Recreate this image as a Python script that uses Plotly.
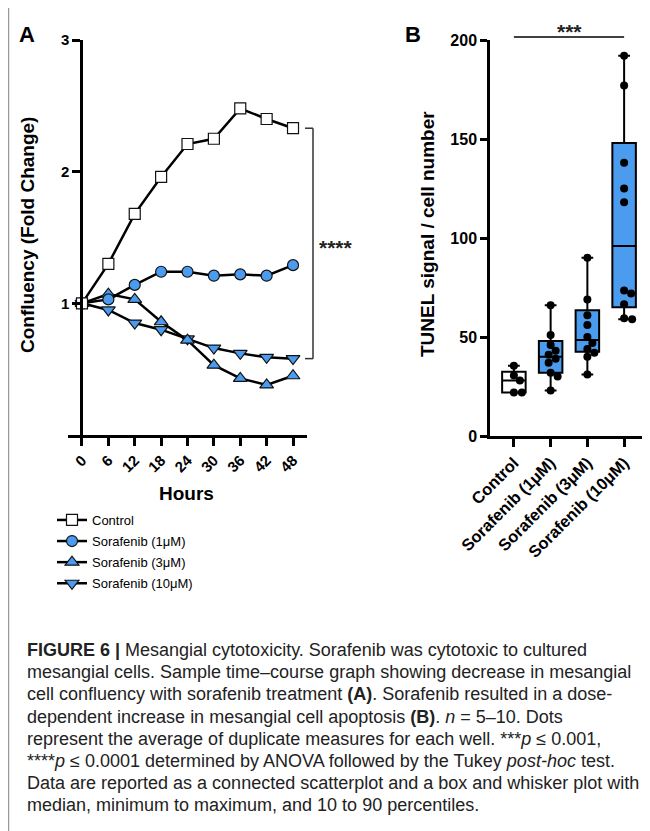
import plotly.graph_objects as go

# ---------------- data ----------------
hours = [0, 6, 12, 18, 24, 30, 36, 42, 48]
control = [1.00, 1.30, 1.68, 1.96, 2.21, 2.25, 2.48, 2.40, 2.33]
sora_1 = [1.00, 1.03, 1.14, 1.24, 1.24, 1.21, 1.22, 1.21, 1.29]
sora_3 = [1.00, 1.07, 1.03, 0.86, 0.72, 0.53, 0.43, 0.38, 0.45]
sora_10 = [1.00, 0.95, 0.85, 0.80, 0.73, 0.66, 0.62, 0.59, 0.58]
series_names = ["Control", "Sorafenib (1μM)", "Sorafenib (3μM)", "Sorafenib (10μM)"]

groups = ["Control", "Sorafenib (1μM)", "Sorafenib (3μM)", "Sorafenib (10μM)"]
tunel_control = [35.5, 30.5, 28, 22, 22]
tunel_1 = [66, 51, 46, 43, 41, 39, 37, 32, 30, 23]
tunel_3 = [90, 69, 61, 56, 50, 47, 44, 42, 40, 31]
tunel_10 = [192, 177, 138, 125, 118, 73.5, 72, 66.5, 59.5, 59]
box_q1 = [22, 32, 42.5, 65]
box_median = [28, 40, 48.5, 96]
box_q3 = [32.5, 48, 63.5, 148]
box_min = [22, 23, 31, 59]
box_max = [35.5, 66, 90, 192]

caption_lines = [
    "<b>FIGURE 6 |</b> Mesangial cytotoxicity. Sorafenib was cytotoxic to cultured",
    "mesangial cells. Sample time–course graph showing decrease in mesangial",
    "cell confluency with sorafenib treatment <b>(A)</b>. Sorafenib resulted in a dose-",
    "dependent increase in mesangial cell apoptosis <b>(B)</b>. <i>n</i> = 5–10. Dots",
    "represent the average of duplicate measures for each well. ***<i>p</i> ≤ 0.001,",
    "****<i>p</i> ≤ 0.0001 determined by ANOVA followed by the Tukey <i>post-hoc</i> test.",
    "Data are reported as a connected scatterplot and a box and whisker plot with",
    "median, minimum to maximum, and 10 to 90 percentiles.",
]

# ---------------- helpers ----------------
# the page body has an 8px margin, so the figure is placed at (8, 8) in the window
OFF = 8
W, H = 650 - OFF, 831 - OFF
def fx(p):
    return (p - OFF) / W
def fy(p):
    return 1 - (p - OFF) / H

FONT = "Liberation Sans, Arial, sans-serif"
BLUE = "#4B9CEF"

fig = go.Figure()

# ---------------- panel A ----------------
styles = [
    (sora_10, "triangle-down", BLUE, 12, 4),
    (sora_3, "triangle-up", BLUE, 12, 3),
    (sora_1, "circle", BLUE, 11, 2),
    (control, "square", "white", 11, 1),
]
for vals, sym, col, sz, rank in styles:
    fig.add_trace(go.Scatter(
        x=hours, y=vals, mode="lines+markers", name=series_names[rank - 1],
        legendrank=rank, legendgroup="g%d" % rank,
        line=dict(color="black", width=2.5),
        marker=dict(symbol=sym, size=sz, color=col, line=dict(color="#111", width=1.2)),
        xaxis="x", yaxis="y", showlegend=True,
    ))

# ---------------- panel B ----------------
fills = ["white", BLUE, BLUE, BLUE]
for i in range(4):
    fig.add_trace(go.Box(
        x=[i], q1=[box_q1[i]], median=[box_median[i]], q3=[box_q3[i]],
        lowerfence=[box_min[i]], upperfence=[box_max[i]],
        width=0.64, whiskerwidth=0.5, fillcolor=fills[i],
        line=dict(color="black", width=2), boxpoints=False,
        xaxis="x2", yaxis="y2", showlegend=False, hoverinfo="skip",
    ))

# beeswarm offsets computed from the values (pixel space)
Y_PX = 396 / 200.0
X_PX = 36.7
DIAM = 7.5
def swarm(vals):
    placed = []
    offs = []
    for v in vals:
        y = v * Y_PX
        step = 0
        while True:
            cands = [0] if step == 0 else [step, -step]
            ok_c = None
            for c in cands:
                if all((c - px) ** 2 + (y - py) ** 2 >= DIAM ** 2 for px, py in placed):
                    ok_c = c
                    break
            if ok_c is not None:
                break
            step += 1
        placed.append((ok_c, y))
        offs.append(ok_c / X_PX)
    return offs

for i, vals in enumerate([tunel_control, tunel_1, tunel_3, tunel_10]):
    offs = swarm(vals)
    fig.add_trace(go.Scatter(
        x=[i + o for o in offs], y=vals, mode="markers",
        marker=dict(size=8, color="black"),
        xaxis="x2", yaxis="y2", showlegend=False, hoverinfo="skip",
    ))

axis_common = dict(showgrid=False, zeroline=False, showline=True, linecolor="black",
                   linewidth=2.5, ticks="outside", tickwidth=2.5, tickcolor="black",
                   automargin=False)

fig.update_layout(
    template="none",
    width=W, height=H, margin=dict(l=0, r=0, t=0, b=0, pad=0), autosize=False,
    paper_bgcolor="white", plot_bgcolor="rgba(0,0,0,0)",
    font=dict(family=FONT, color="black"),
    xaxis=dict(domain=[fx(68), fx(307)], range=[-3.18, 51.18], anchor="y",
               tickvals=hours, ticktext=[str(h) for h in hours], tickangle=-45, ticklen=8,
               tickfont=dict(size=15, family=FONT, weight="bold"), **axis_common),
    yaxis=dict(domain=[fy(435), fy(40)], range=[0, 3], anchor="free", position=fx(81),
               tickvals=[1, 2, 3], ticklen=8,
               tickfont=dict(size=15, family=FONT, weight="bold"), **axis_common),
    xaxis2=dict(domain=[fx(490), fx(648)], range=[-0.65, 3.65], anchor="y2",
                tickvals=[0, 1, 2, 3], ticktext=groups, tickangle=-45, ticklen=8,
                tickfont=dict(size=16.5, family=FONT, weight="bold"), **axis_common),
    yaxis2=dict(domain=[fy(436), fy(40)], range=[0, 200], anchor="x2",
                tickvals=[0, 50, 100, 150, 200], ticklen=7,
                tickfont=dict(size=16, family=FONT, weight="bold"), **axis_common),
    legend=dict(x=fx(52), y=fy(505), xanchor="left", yanchor="top",
                font=dict(size=13, family=FONT), itemwidth=30, traceorder="grouped",
                bgcolor="rgba(0,0,0,0)", borderwidth=0, tracegroupgap=1.2),
)

ann = []
def add_text(text, px, py, size, xanchor="center", yanchor="middle", angle=0, color="black",
             xref="paper", xval=None):
    ann.append(dict(text=text, x=(fx(px) if xval is None else xval), y=fy(py),
                    xref=xref, yref="paper", xanchor=xanchor, yanchor=yanchor,
                    showarrow=False, textangle=angle, align="left",
                    font=dict(size=size, family=FONT, color=color)))

add_text("<b>A</b>", 27, 35, 22)
add_text("<b>B</b>", 413, 35, 22)
add_text("<b>Confluency (Fold Change)</b>", 27, 235, 19, angle=-90)
add_text("<b>Hours</b>", 187, 493, 19)
add_text("<b>TUNEL signal / cell number</b>", 427, 234, 19, angle=-90)
add_text("<b>****</b>", 317, 248, 21, xanchor="left", color="#222")
add_text("<b>***</b>", 0, 31, 21, color="#222", xref="x2", xval=1.5)
for k, line in enumerate(caption_lines):
    add_text(line, 25, 650 + k * 22.2, 18, xanchor="left", color="#222")
fig.update_layout(annotations=ann)

shapes = []
# frame (top and left)
shapes.append(dict(type="line", xref="paper", yref="paper", x0=fx(8), x1=1, y0=fy(7), y1=fy(7),
                   line=dict(color="#999", width=1.5)))
shapes.append(dict(type="line", xref="paper", yref="paper", x0=fx(8.5), x1=fx(8.5), y0=fy(7), y1=0,
                   line=dict(color="#999", width=1.5)))
# bracket panel A
bc = "#333"
shapes.append(dict(type="line", xref="paper", yref="y", x0=fx(313), x1=fx(313),
                   y0=control[-1], y1=sora_10[-1], line=dict(color=bc, width=1.5)))
shapes.append(dict(type="line", xref="paper", yref="y", x0=fx(305), x1=fx(313),
                   y0=control[-1], y1=control[-1], line=dict(color=bc, width=1.5)))
shapes.append(dict(type="line", xref="paper", yref="y", x0=fx(305), x1=fx(313),
                   y0=sora_10[-1], y1=sora_10[-1], line=dict(color=bc, width=1.5)))
# significance line panel B
shapes.append(dict(type="line", xref="x2", yref="paper", x0=0, x1=3, y0=fy(37), y1=fy(37),
                   line=dict(color="black", width=1.5)))
fig.update_layout(shapes=shapes)

fig.write_html("out.html")
